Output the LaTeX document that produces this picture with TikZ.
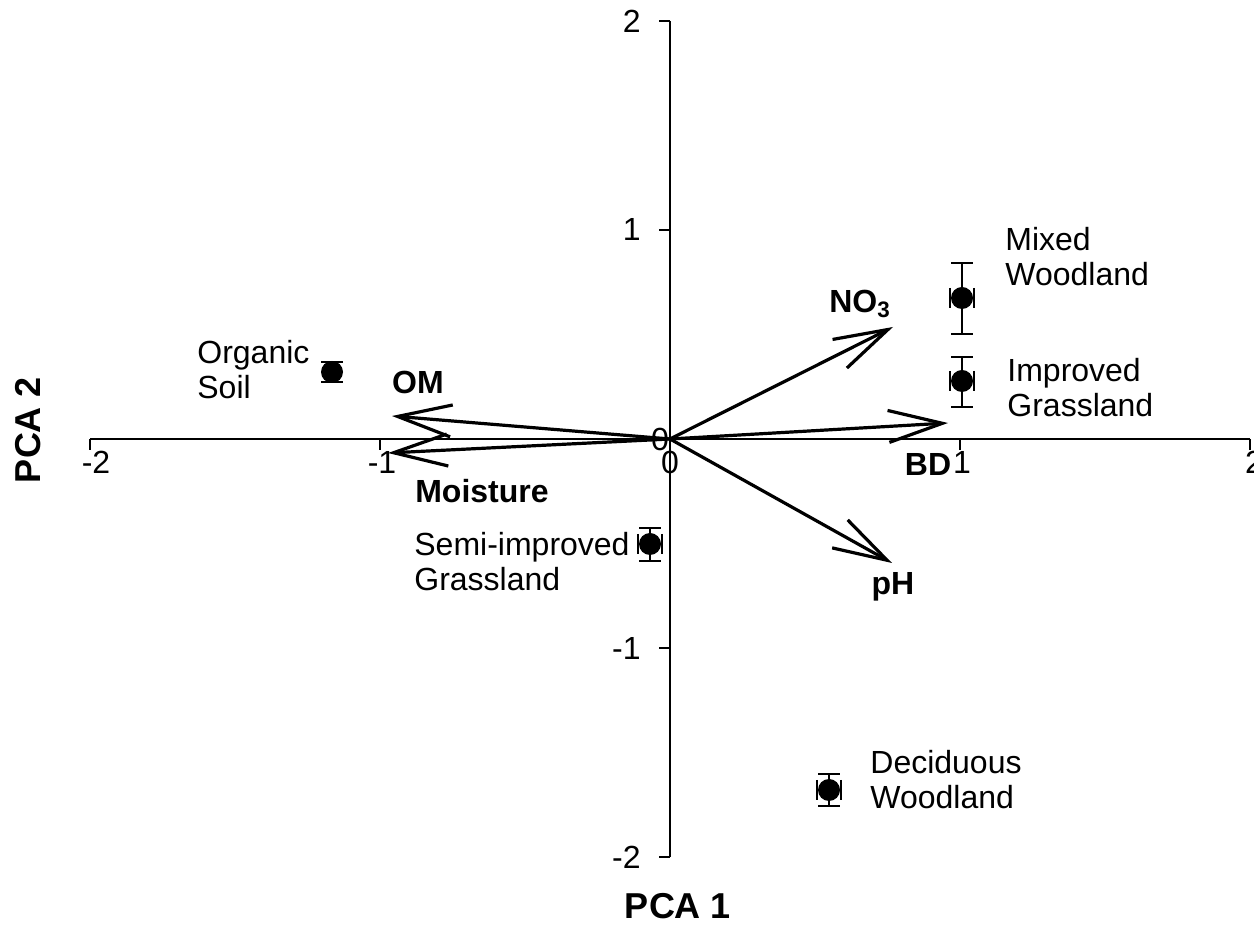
\documentclass[tikz,border=0pt]{standalone}
\usepackage{fontspec}
\setmainfont{Liberation Sans}
\usetikzlibrary{arrows.meta}
\begin{document}
\begin{tikzpicture}[x=0.5pt,y=-0.5pt,
  axisline/.style={line width=1pt},
  ticklab/.style={font=\fontsize{16}{18}\selectfont, inner sep=0pt},
  vec/.style={line width=1.6pt, -{Straight Barb[length=27pt,width=16pt,line width=1.6pt]}},
  varlab/.style={font=\bfseries\fontsize{16}{18}\selectfont, inner sep=0pt},
  sitelab/.style={font=\fontsize{16}{17.5}\selectfont, align=left, anchor=west, inner sep=0pt},
  errbar/.style={line width=1pt},
  dot/.style={circle, fill=black, minimum size=11pt, inner sep=0pt},
  axtitle/.style={font=\bfseries\fontsize{18}{20}\selectfont, inner sep=0pt}]
\useasboundingbox (0,0) rectangle (1254,929);
% axes
\coordinate (o) at (670,439);
\coordinate (xl) at (90,439);
\coordinate (xr) at (1250,439);
\coordinate (yt) at (670,21);
\coordinate (yb) at (670,857);
\draw[axisline] (xl) -- (xr);
\draw[axisline] (yt) -- (yb);
% x ticks
\foreach \xx in {90,380,670,960,1250} \draw[axisline] (\xx,439) -- (\xx,450);
% y ticks
\foreach \yy in {21,230,439,648,857} \draw[axisline] (670,\yy) -- (659,\yy);
% tick labels
\node[ticklab] (xm2) at (96,462) {-2};
\node[ticklab] (xm1) at (382,462) {-1};
\node[ticklab] (x0) at (670,462) {0};
\node[ticklab] (x1) at (962,462) {1};
\node[ticklab] (x2) at (1254,462) {2};
\node[ticklab, anchor=east] (y2) at (641,21) {2};
\node[ticklab, anchor=east] (y1) at (641,230) {1};
\node[ticklab] (y0) at (660,439) {0};
\node[ticklab, anchor=east] (ym1) at (641,648) {-1};
\node[ticklab, anchor=east] (ym2) at (641,857) {-2};
% axis titles
\node[axtitle] (t1) at (678,906) {PCA 1};
\node[axtitle, rotate=90] (t2) at (28,430) {PCA 2};
% vectors
\coordinate (omtip) at (392,416);
\coordinate (motip) at (388,453);
\coordinate (notip) at (893,327);
\coordinate (bdtip) at (948,423);
\coordinate (phtip) at (892,563);
\draw[vec] (o) -- (omtip);
\draw[vec] (o) -- (motip);
\draw[vec] (o) -- (notip);
\draw[vec] (o) -- (bdtip);
\draw[vec] (o) -- (phtip);
\node[varlab] (om) at (418,382) {OM};
\node[varlab] (mo) at (482,491) {Moisture};
\node[varlab] (no) at (860,304) {NO$_\mathbf{3}$};
\node[varlab] (bd) at (928,464) {BD};
\node[varlab] (ph) at (893,587) {pH};
% data points: x, y, vertical half-range (up,down), horizontal half-range, name
\newcommand{\sitepoint}[7]{%
  \draw[errbar] (#1,#2-#3) -- (#1,#2+#4);
  \draw[errbar] (#1-11,#2-#3) -- (#1+11,#2-#3);
  \draw[errbar] (#1-11,#2+#4) -- (#1+11,#2+#4);
  \draw[errbar] (#1-#5,#2) -- (#1+#5,#2);
  \draw[errbar] (#1-#5,#2-#7) -- (#1-#5,#2+#7);
  \draw[errbar] (#1+#5,#2-#7) -- (#1+#5,#2+#7);
  \node[dot] (#6) at (#1,#2) {};
}
\sitepoint{332}{372}{10}{10}{5}{os}{5}
\sitepoint{962}{298}{35}{36}{12}{mw}{10}
\sitepoint{962}{381}{24}{26}{12}{ig}{10}
\sitepoint{650}{544}{16}{17}{12}{sg}{10}
\sitepoint{829}{790}{16}{16}{12}{dw}{10}
\node[sitelab] (oslab) at (197,370) {Organic\\Soil};
\node[sitelab] (mwlab) at (1005,257) {Mixed\\Woodland};
\node[sitelab] (iglab) at (1007,388) {Improved\\Grassland};
\node[sitelab] (sglab) at (414,562) {Semi-improved\\Grassland};
\node[sitelab] (dwlab) at (870,780) {Deciduous\\Woodland};
\end{tikzpicture}
\end{document}
